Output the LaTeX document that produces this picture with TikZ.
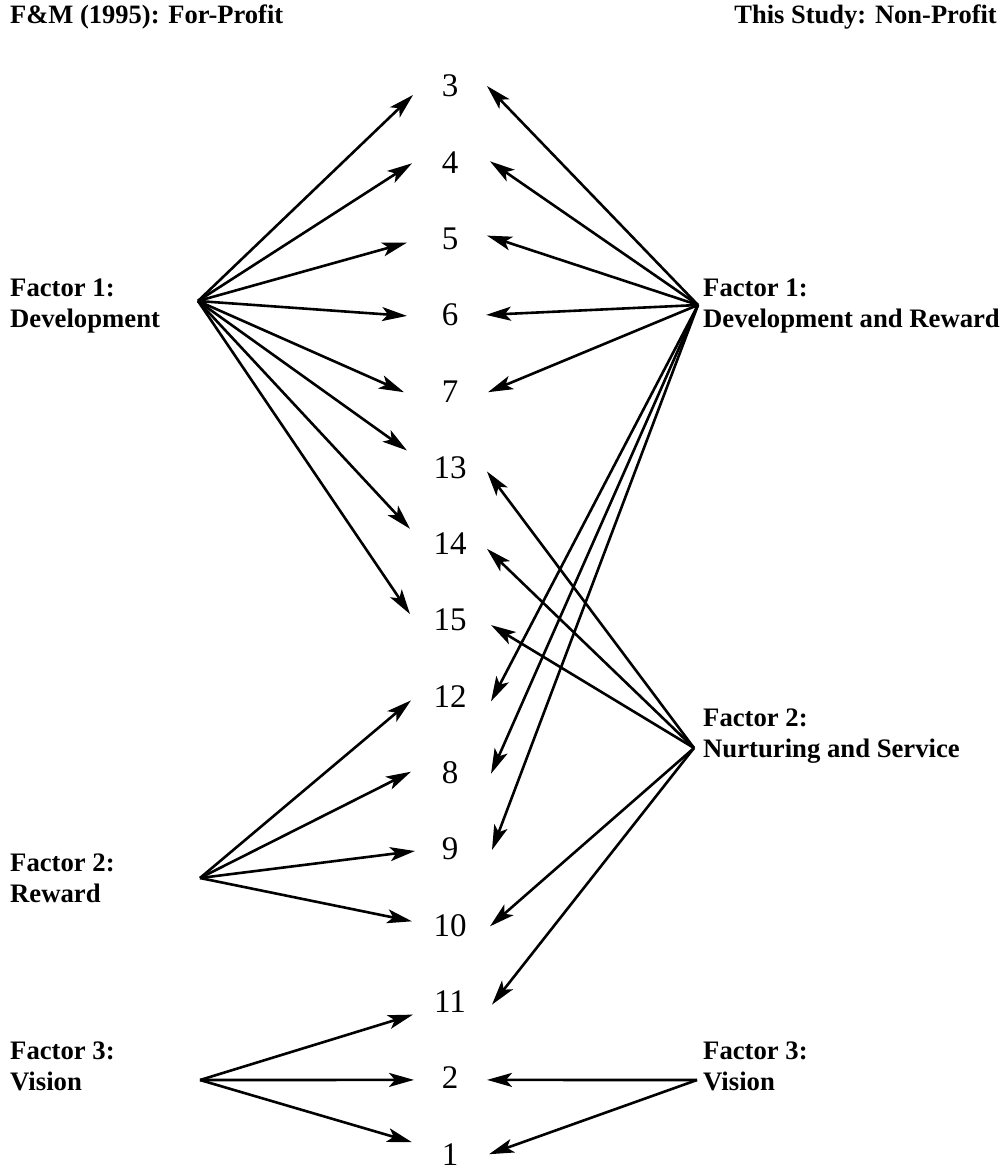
\documentclass[tikz,border=0pt]{standalone}
\usepackage{fontspec}
\setmainfont{Liberation Serif}
\usetikzlibrary{arrows.meta,calc}
\tikzset{
  lbl/.style={font=\fontsize{26.7}{31}\selectfont\bfseries, inner sep=0pt, align=left, anchor=base west},
  ttl/.style={font=\fontsize{26.5}{31}\selectfont\bfseries, inner sep=0pt},
  num/.style={font=\fontsize{33}{39}\selectfont, inner sep=0pt},
  arr/.style={line width=2.6pt, -{Stealth[length=25pt,width=14pt,inset=6pt]}}
}
\begin{document}
\begin{tikzpicture}[x=1pt,y=-1pt]
\useasboundingbox (0,0) rectangle (1002,1173);
% titles
\node[ttl, anchor=base west] (tl) at (10,23) {F\&M (1995): For-Profit};
\node[ttl, anchor=base east] (tr) at (997,23) {This Study: Non-Profit};
% factor labels (anchor = baseline of last line)
\node[lbl] (lf1) at (10,327) {Factor 1:\\Development};
\node[lbl] (lf2) at (10,902) {Factor 2:\\Reward};
\node[lbl] (lf3) at (10,1090) {Factor 3:\\Vision};
\node[lbl] (rf1) at (703,327) {Factor 1:\\Development and Reward};
\node[lbl] (rf2) at (703,757) {Factor 2:\\Nurturing and Service};
\node[lbl] (rf3) at (703,1090) {Factor 3:\\Vision};
% numbers
\foreach \t [count=\i from 0] in {3,4,5,6,7,13,14,15,12,8,9,10,11,2,1}{
  \node[num] (n\t) at (450,{86+76.3*\i}) {\t};
}
% sources
\coordinate (L1) at (198,301);
\coordinate (L2) at (200,878);
\coordinate (L3) at (200,1080);
\coordinate (R1) at (698,305);
\coordinate (R2) at (694,748);
\coordinate (R3) at (697,1080);
% left factor 1
\draw[arr] (L1) -- ($(n3)+(-37,9)$);
\draw[arr] (L1) -- ($(n4)+(-38,1)$);
\draw[arr] (L1) -- ($(n5)+(-43,4)$);
\draw[arr] (L1) -- ($(n6)+(-43,1)$);
\draw[arr] (L1) -- ($(n7)+(-46,1)$);
\draw[arr] (L1) -- ($(n13)+(-43,-17)$);
\draw[arr] (L1) -- ($(n14)+(-40,-15)$);
\draw[arr] (L1) -- ($(n15)+(-40,-6)$);
% left factor 2
\draw[arr] (L2) -- ($(n12)+(-39,4)$);
\draw[arr] (L2) -- ($(n8)+(-39,-1)$);
\draw[arr] (L2) -- ($(n9)+(-35,2)$);
\draw[arr] (L2) -- ($(n10)+(-38,-4)$);
% left factor 3
\draw[arr] (L3) -- ($(n11)+(-37,13)$);
\draw[arr] (L3) -- ($(n2)+(-36,2)$);
\draw[arr] (L3) -- ($(n1)+(-38,-12)$);
% right factor 1
\draw[arr] (R1) -- ($(n3)+(37,0)$);
\draw[arr] (R1) -- ($(n4)+(40,-1)$);
\draw[arr] (R1) -- ($(n5)+(37,-3)$);
\draw[arr] (R1) -- ($(n6)+(36,0)$);
\draw[arr] (R1) -- ($(n7)+(38,1)$);
\draw[arr] (R1) -- ($(n12)+(41,5)$);
\draw[arr] (R1) -- ($(n8)+(41,1)$);
\draw[arr] (R1) -- ($(n9)+(42,1)$);
% right factor 2
\draw[arr] (R2) -- ($(n13)+(37,4)$);
\draw[arr] (R2) -- ($(n14)+(37,5)$);
\draw[arr] (R2) -- ($(n15)+(41,5)$);
\draw[arr] (R2) -- ($(n10)+(40,1)$);
\draw[arr] (R2) -- ($(n11)+(42,3)$);
% right factor 3
\draw[arr] (R3) -- ($(n2)+(37,2)$);
\draw[arr] (R3) -- ($(n1)+(39,0)$);
\end{tikzpicture}
\end{document}
